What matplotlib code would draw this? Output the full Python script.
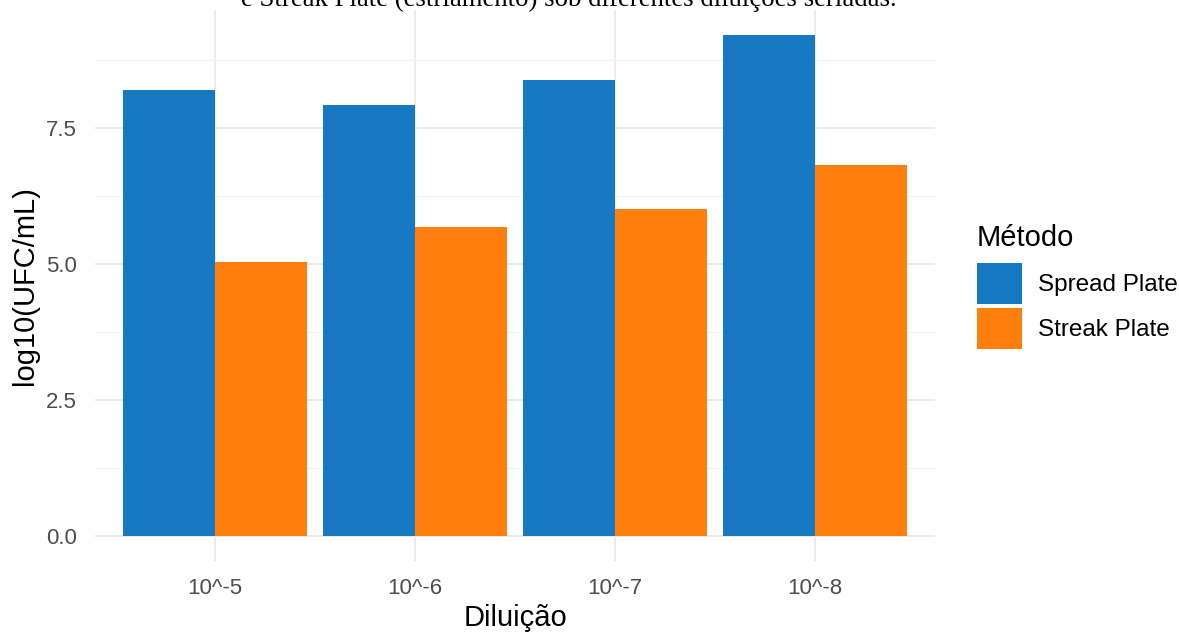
import numpy as np
import matplotlib
matplotlib.use('Agg')
import matplotlib.pyplot as plt
from matplotlib.patches import Patch

# data
diluicoes = ['10^-5', '10^-6', '10^-7', '10^-8']
spread = [8.20, 7.92, 8.38, 9.21]
streak = [5.04, 5.68, 6.01, 6.82]
metodos = ['Spread Plate', 'Streak Plate']
cores = ['#1679C1', '#FF7F0E']

plt.rcParams['font.family'] = ['Liberation Sans', 'DejaVu Sans']

W, H = 1179, 634
fig = plt.figure(figsize=(W / 100, H / 100), dpi=100)
ax = fig.add_axes([95 / W, 73 / H, (935 - 95) / W, (624 - 73) / H])

x = np.arange(1, len(diluicoes) + 1)
w = 0.46
ax.bar(x - w / 2, spread, width=w, color=cores[0], zorder=3)
ax.bar(x + w / 2, streak, width=w, color=cores[1], zorder=3)

ymax = max(spread) * 1.05
ax.set_xlim(0.4, 4.6)
ax.set_ylim(-max(spread) * 0.05, ymax)
ax.set_yticks([0, 2.5, 5.0, 7.5])
ax.set_yticklabels(['0.0', '2.5', '5.0', '7.5'])
ax.set_yticks([1.25, 3.75, 6.25, 8.75], minor=True)
ax.set_xticks(x)
ax.set_xticklabels(diluicoes)

ax.grid(True, which='major', color='#EBEBEB', linewidth=1.4, zorder=0)
ax.grid(True, which='minor', axis='y', color='#F2F2F2', linewidth=1.0, zorder=0)
for s in ax.spines.values():
    s.set_visible(False)
ax.tick_params(axis='both', which='both', length=0, labelsize=16, labelcolor='#4D4D4D')
ax.tick_params(axis='x', pad=12)
ax.tick_params(axis='y', pad=13)

ax.set_xlabel('Diluição', fontsize=21, labelpad=4)
ax.set_ylabel('log10(UFC/mL)', fontsize=21, labelpad=5)

handles = [Patch(facecolor=c, edgecolor='none') for c in cores]
leg = fig.legend(handles, metodos, title='Método', loc='upper left',
                 bbox_to_anchor=(972 / W, 1 - 219 / H), frameon=False,
                 fontsize=17.5, title_fontsize=21, handlelength=1.85,
                 handleheight=2.2, labelspacing=0.17, handletextpad=0.65,
                 borderaxespad=0, borderpad=0.2)
leg._legend_box.align = 'left'
leg._legend_box.sep = 8  # more room under the legend title

# title is cut off at the top in the reference
fig.text(569 / W, 1 - 6 / H,
         'e Streak Plate (estriamento) sob diferentes diluições seriadas.',
         ha='center', va='baseline', fontsize=19.3,
         family=['Liberation Serif', 'DejaVu Serif'])

fig.savefig('out.png', dpi=100)
